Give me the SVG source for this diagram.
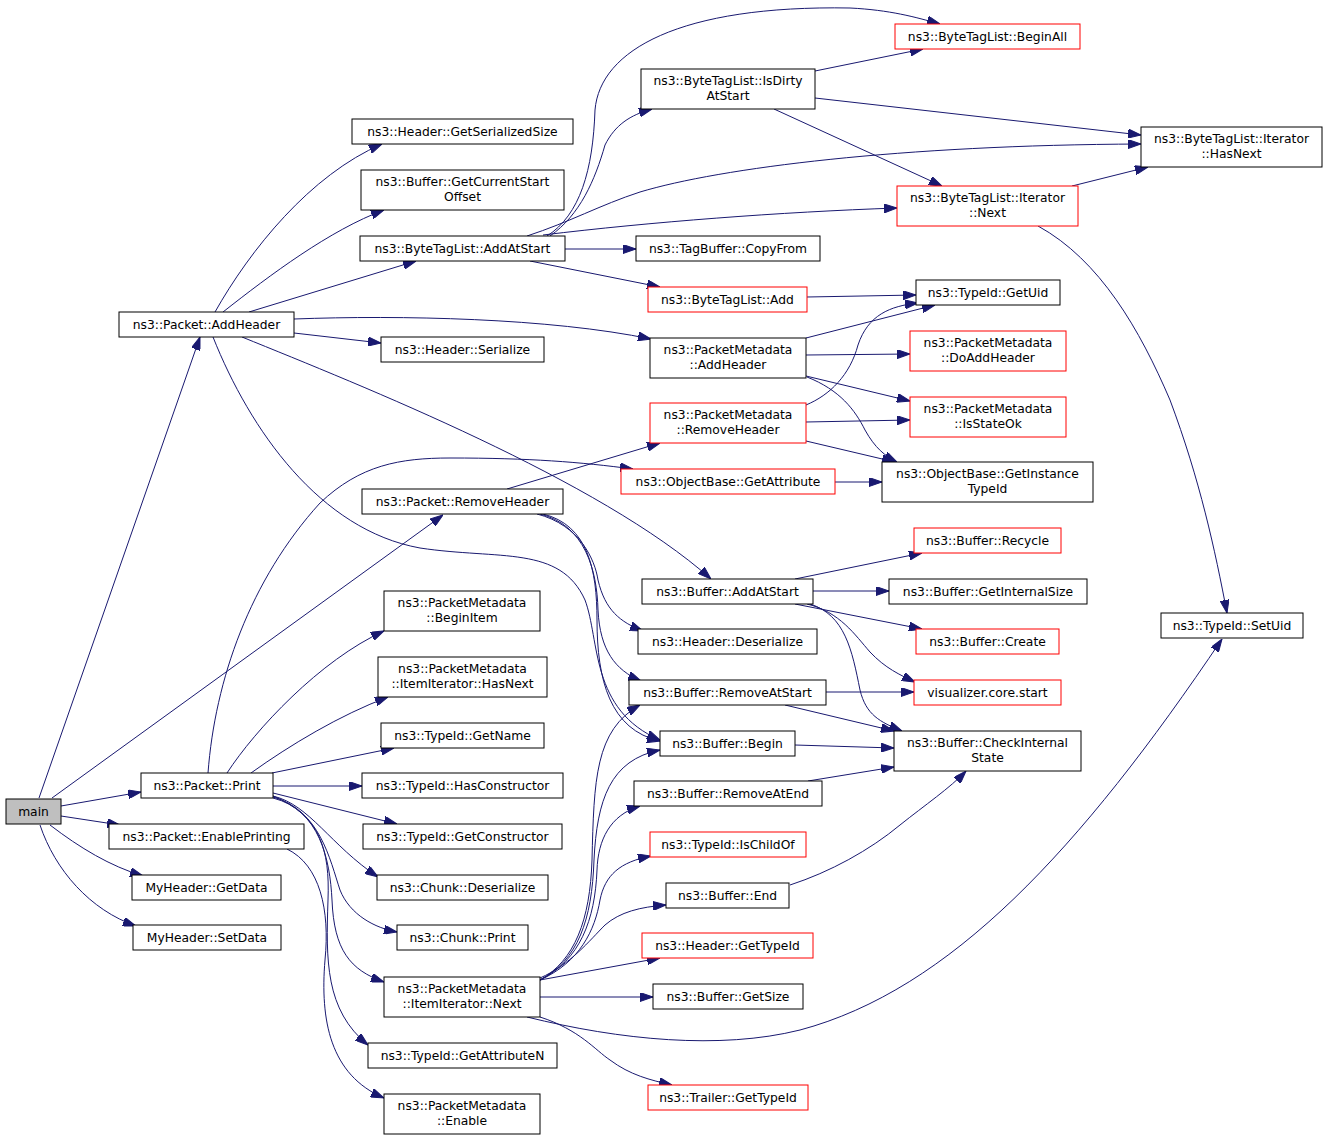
<svg xmlns="http://www.w3.org/2000/svg" width="1328" height="1140" viewBox="0 0 1328 1140">
<defs>
<marker id="a" markerUnits="userSpaceOnUse" markerWidth="13" markerHeight="9" refX="13" refY="4.5" orient="auto">
<path d="M0,0 L13,4.5 L0,9 z" fill="#191970" stroke="#191970" stroke-width="1"/>
</marker>
<style>
.n rect{fill:#fff;stroke:#000;stroke-width:1}
.r rect{fill:#fff;stroke:#f00;stroke-width:1}
.g rect{fill:#bfbfbf;stroke:#000;stroke-width:1}
text{font-family:"DejaVu Sans","Liberation Sans",sans-serif;font-size:12.3px;text-anchor:middle;fill:#000}
#edges path{fill:none;stroke:#191970;stroke-width:1;marker-end:url(#a)}
</style>
</defs>
<rect width="1328" height="1140" fill="#fff"/>
<g id="edges">
<path d="M39,798 L200,337"/>
<path d="M52,798 L443,515"/>
<path d="M61,806 L141,792"/>
<path d="M61,816 L120,825"/>
<path d="M50,825 C80,848 110,866 143,876"/>
<path d="M40,825 C55,870 90,910 136,926"/>
<path d="M215,312 C250,250 310,175 382,144"/>
<path d="M223,312 C270,275 330,230 384,210"/>
<path d="M249,312 L416,261"/>
<path d="M294,319 C400,315 550,318 651,339"/>
<path d="M294,333 L381,343"/>
<path d="M242,337 C360,385 600,480 711,579"/>
<path d="M213,337 C250,430 320,530 420,548 C500,560 560,545 585,600 C600,640 590,710 660,740"/>
<path d="M507,489 L660,443"/>
<path d="M537,514 C580,525 595,560 598,580 C605,610 620,622 643,631"/>
<path d="M540,514 C585,525 597,570 598,610 C600,650 615,670 641,681"/>
<path d="M543,514 C588,525 597,570 597,620 C597,680 610,730 660,741"/>
<path d="M208,773 C215,680 250,580 320,503 C360,465 400,458 450,458 C530,458 580,462 633,469"/>
<path d="M227,773 C255,730 320,660 384,631"/>
<path d="M251,773 C290,745 340,715 388,697"/>
<path d="M272,773 L394,748"/>
<path d="M273,786 L362,786"/>
<path d="M273,793 L397,824"/>
<path d="M273,796 C310,805 330,845 378,877"/>
<path d="M273,797 C320,810 330,860 340,890 C350,915 375,928 397,932"/>
<path d="M273,798 C320,810 330,860 332,900 C334,950 350,970 384,982"/>
<path d="M273,796 C320,815 330,850 328,900 C326,960 325,1010 368,1045"/>
<path d="M287,849 C320,865 330,910 325,960 C320,1020 330,1075 384,1098"/>
<path d="M540,980 C575,960 590,920 592,860 C594,780 595,730 640,705"/>
<path d="M540,980 C578,960 592,920 594,860 C597,800 610,760 660,750"/>
<path d="M540,980 C580,960 595,920 597,870 C598,840 610,815 640,806"/>
<path d="M540,980 C580,962 595,930 600,900 C605,875 620,862 651,856"/>
<path d="M540,978 C570,965 590,940 605,925 C620,912 640,907 666,905"/>
<path d="M540,980 L660,958"/>
<path d="M540,997 L653,997"/>
<path d="M527,1017 C620,1040 720,1050 800,1030 C950,990 1080,850 1222,639"/>
<path d="M540,1017 C580,1030 595,1050 610,1060 C630,1075 650,1080 672,1085"/>
<path d="M550,236 C580,215 595,180 605,145 C615,125 630,115 652,109"/>
<path d="M547,236 C580,215 593,170 595,110 C600,50 680,5 850,8 C890,10 915,17 940,24"/>
<path d="M527,236 C570,222 600,205 640,192 C720,168 900,145 1141,144"/>
<path d="M543,235 C650,222 780,212 897,208"/>
<path d="M565,249 L636,249"/>
<path d="M530,261 L660,287"/>
<path d="M815,71 L923,49"/>
<path d="M815,98 L1141,135"/>
<path d="M774,109 L942,186"/>
<path d="M1072,186 L1148,167"/>
<path d="M1038,226 C1100,260 1140,330 1170,400 C1200,480 1215,550 1227,613"/>
<path d="M807,297 L916,295"/>
<path d="M806,338 L935,305"/>
<path d="M806,355 L910,354"/>
<path d="M806,376 L910,401"/>
<path d="M807,377 C840,390 855,410 865,430 C875,448 885,456 897,462"/>
<path d="M806,405 C830,395 850,375 858,345 C868,315 890,306 918,303"/>
<path d="M806,422 L910,420"/>
<path d="M806,441 L895,462"/>
<path d="M835,482 L882,482"/>
<path d="M795,579 L922,553"/>
<path d="M813,591 L889,591"/>
<path d="M795,604 L922,629"/>
<path d="M807,604 C840,612 855,635 870,652 C885,668 900,675 915,682"/>
<path d="M810,604 C845,615 852,650 860,690 C866,715 880,722 902,731"/>
<path d="M826,692 L914,692"/>
<path d="M785,705 L894,731"/>
<path d="M795,745 L894,748"/>
<path d="M808,781 L894,767"/>
<path d="M790,885 C830,872 870,850 900,825 C925,805 950,788 966,771"/>
</g>
<g id="n1" class="g"><rect x="6" y="799" width="55" height="25"/><text x="33.5" y="816">main</text></g>
<g id="n2" class="n"><rect x="119" y="312" width="175" height="25"/><text x="206.5" y="329">ns3::Packet::AddHeader</text></g>
<g id="n3" class="n"><rect x="352" y="119" width="221" height="25"/><text x="462.5" y="136">ns3::Header::GetSerializedSize</text></g>
<g id="n4" class="n"><rect x="361" y="170" width="203" height="40"/><text x="462.5" y="186">ns3::Buffer::GetCurrentStart</text><text x="462.5" y="201">Offset</text></g>
<g id="n5" class="n"><rect x="360" y="236" width="205" height="25"/><text x="462.5" y="253">ns3::ByteTagList::AddAtStart</text></g>
<g id="n6" class="n"><rect x="381" y="337" width="163" height="25"/><text x="462.5" y="354">ns3::Header::Serialize</text></g>
<g id="n7" class="n"><rect x="641" y="69" width="174" height="40"/><text x="728" y="85">ns3::ByteTagList::IsDirty</text><text x="728" y="100">AtStart</text></g>
<g id="n8" class="n"><rect x="636" y="236" width="184" height="25"/><text x="728" y="253">ns3::TagBuffer::CopyFrom</text></g>
<g id="n9" class="r"><rect x="648" y="287" width="159" height="25"/><text x="727.5" y="304">ns3::ByteTagList::Add</text></g>
<g id="n10" class="n"><rect x="650" y="338" width="156" height="40"/><text x="728" y="354">ns3::PacketMetadata</text><text x="728" y="369">::AddHeader</text></g>
<g id="n11" class="r"><rect x="895" y="24" width="185" height="25"/><text x="987.5" y="41">ns3::ByteTagList::BeginAll</text></g>
<g id="n12" class="n"><rect x="1141" y="127" width="181" height="40"/><text x="1231.5" y="143">ns3::ByteTagList::Iterator</text><text x="1231.5" y="158">::HasNext</text></g>
<g id="n13" class="r"><rect x="897" y="186" width="181" height="40"/><text x="987.5" y="202">ns3::ByteTagList::Iterator</text><text x="987.5" y="217">::Next</text></g>
<g id="n14" class="n"><rect x="916" y="280" width="144" height="25"/><text x="988" y="297">ns3::TypeId::GetUid</text></g>
<g id="n15" class="r"><rect x="910" y="331" width="156" height="40"/><text x="988" y="347">ns3::PacketMetadata</text><text x="988" y="362">::DoAddHeader</text></g>
<g id="n16" class="r"><rect x="910" y="397" width="156" height="40"/><text x="988" y="413">ns3::PacketMetadata</text><text x="988" y="428">::IsStateOk</text></g>
<g id="n17" class="n"><rect x="882" y="462" width="211" height="40"/><text x="987.5" y="478">ns3::ObjectBase::GetInstance</text><text x="987.5" y="493">TypeId</text></g>
<g id="n18" class="r"><rect x="914" y="528" width="147" height="25"/><text x="987.5" y="545">ns3::Buffer::Recycle</text></g>
<g id="n19" class="n"><rect x="889" y="579" width="198" height="25"/><text x="988" y="596">ns3::Buffer::GetInternalSize</text></g>
<g id="n20" class="r"><rect x="916" y="629" width="143" height="25"/><text x="987.5" y="646">ns3::Buffer::Create</text></g>
<g id="n21" class="r"><rect x="914" y="680" width="147" height="25"/><text x="987.5" y="697">visualizer.core.start</text></g>
<g id="n22" class="n"><rect x="894" y="731" width="187" height="40"/><text x="987.5" y="747">ns3::Buffer::CheckInternal</text><text x="987.5" y="762">State</text></g>
<g id="n23" class="n"><rect x="1161" y="613" width="142" height="25"/><text x="1232" y="630">ns3::TypeId::SetUid</text></g>
<g id="n24" class="r"><rect x="650" y="403" width="156" height="40"/><text x="728" y="419">ns3::PacketMetadata</text><text x="728" y="434">::RemoveHeader</text></g>
<g id="n25" class="r"><rect x="621" y="469" width="214" height="25"/><text x="728" y="486">ns3::ObjectBase::GetAttribute</text></g>
<g id="n26" class="n"><rect x="362" y="489" width="201" height="25"/><text x="462.5" y="506">ns3::Packet::RemoveHeader</text></g>
<g id="n27" class="n"><rect x="642" y="579" width="171" height="25"/><text x="727.5" y="596">ns3::Buffer::AddAtStart</text></g>
<g id="n28" class="n"><rect x="638" y="629" width="179" height="25"/><text x="727.5" y="646">ns3::Header::Deserialize</text></g>
<g id="n29" class="n"><rect x="629" y="680" width="197" height="25"/><text x="727.5" y="697">ns3::Buffer::RemoveAtStart</text></g>
<g id="n30" class="n"><rect x="660" y="731" width="135" height="25"/><text x="727.5" y="748">ns3::Buffer::Begin</text></g>
<g id="n31" class="n"><rect x="634" y="781" width="188" height="25"/><text x="728" y="798">ns3::Buffer::RemoveAtEnd</text></g>
<g id="n32" class="r"><rect x="650" y="832" width="156" height="25"/><text x="728" y="849">ns3::TypeId::IsChildOf</text></g>
<g id="n33" class="n"><rect x="666" y="883" width="123" height="25"/><text x="727.5" y="900">ns3::Buffer::End</text></g>
<g id="n34" class="r"><rect x="642" y="933" width="171" height="25"/><text x="727.5" y="950">ns3::Header::GetTypeId</text></g>
<g id="n35" class="n"><rect x="653" y="984" width="150" height="25"/><text x="728" y="1001">ns3::Buffer::GetSize</text></g>
<g id="n36" class="r"><rect x="648" y="1085" width="160" height="25"/><text x="728" y="1102">ns3::Trailer::GetTypeId</text></g>
<g id="n37" class="n"><rect x="384" y="977" width="156" height="40"/><text x="462" y="993">ns3::PacketMetadata</text><text x="462" y="1008">::ItemIterator::Next</text></g>
<g id="n38" class="n"><rect x="368" y="1043" width="189" height="25"/><text x="462.5" y="1060">ns3::TypeId::GetAttributeN</text></g>
<g id="n39" class="n"><rect x="384" y="1094" width="156" height="40"/><text x="462" y="1110">ns3::PacketMetadata</text><text x="462" y="1125">::Enable</text></g>
<g id="n40" class="n"><rect x="141" y="773" width="132" height="25"/><text x="207" y="790">ns3::Packet::Print</text></g>
<g id="n41" class="n"><rect x="109" y="824" width="195" height="25"/><text x="206.5" y="841">ns3::Packet::EnablePrinting</text></g>
<g id="n42" class="n"><rect x="132" y="875" width="149" height="25"/><text x="206.5" y="892">MyHeader::GetData</text></g>
<g id="n43" class="n"><rect x="133" y="925" width="148" height="25"/><text x="207" y="942">MyHeader::SetData</text></g>
<g id="n44" class="n"><rect x="362" y="773" width="201" height="25"/><text x="462.5" y="790">ns3::TypeId::HasConstructor</text></g>
<g id="n45" class="n"><rect x="363" y="824" width="199" height="25"/><text x="462.5" y="841">ns3::TypeId::GetConstructor</text></g>
<g id="n46" class="n"><rect x="377" y="875" width="171" height="25"/><text x="462.5" y="892">ns3::Chunk::Deserialize</text></g>
<g id="n47" class="n"><rect x="397" y="925" width="131" height="25"/><text x="462.5" y="942">ns3::Chunk::Print</text></g>
<g id="n48" class="n"><rect x="384" y="591" width="156" height="40"/><text x="462" y="607">ns3::PacketMetadata</text><text x="462" y="622">::BeginItem</text></g>
<g id="n49" class="n"><rect x="378" y="657" width="169" height="40"/><text x="462.5" y="673">ns3::PacketMetadata</text><text x="462.5" y="688">::ItemIterator::HasNext</text></g>
<g id="n50" class="n"><rect x="381" y="723" width="163" height="25"/><text x="462.5" y="740">ns3::TypeId::GetName</text></g>
</svg>
